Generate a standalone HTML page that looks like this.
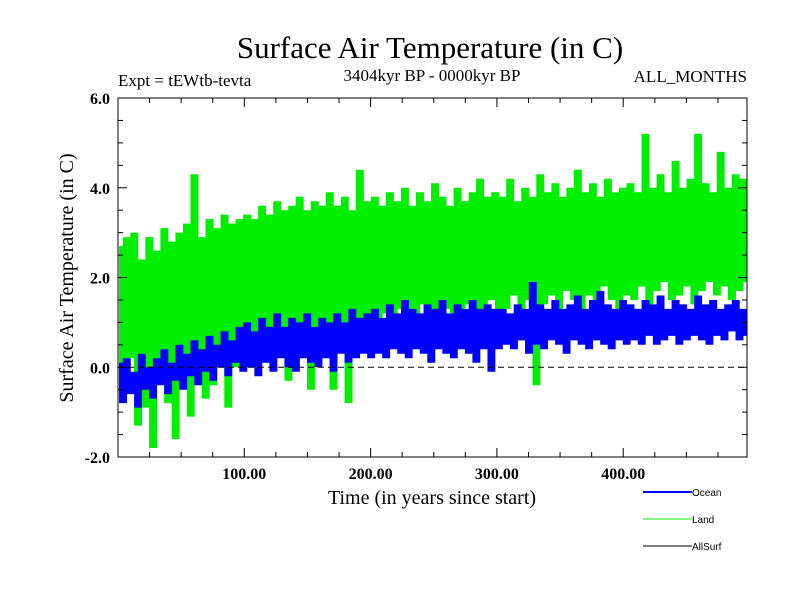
<!DOCTYPE html>
<html><head><meta charset="utf-8">
<style>
html,body{margin:0;padding:0;background:#fff;}
svg{display:block;font-family:"Liberation Serif",serif;}
.sans{font-family:"Liberation Sans",sans-serif;}
</style></head>
<body>
<svg id="chart" width="800" height="600" viewBox="0 0 800 600">
  <text x="430" y="58" font-size="31" text-anchor="middle">Surface Air Temperature (in C)</text>
  <text x="432" y="81" font-size="17" text-anchor="middle">3404kyr BP - 0000kyr BP</text>
  <text x="118" y="86" font-size="17">Expt = tEWtb-tevta</text>
  <text x="747" y="82" font-size="17" text-anchor="end">ALL_MONTHS</text>
  <text x="0" y="0" font-size="20" text-anchor="middle" transform="translate(73,278) rotate(-90)">Surface Air Temperature (in C)</text>
  <text x="432" y="504" font-size="20" text-anchor="middle">Time (in years since start)</text>
  <g id="series"></g>
  <g id="axes"></g>
  <g>
    <line x1="643" y1="492" x2="692" y2="492" stroke="#0000ff" stroke-width="2"/>
    <text class="sans" x="692" y="496" font-size="10">Ocean</text>
    <line x1="643" y1="519" x2="692" y2="519" stroke="#00ee00" stroke-width="1"/>
    <text class="sans" x="692" y="523" font-size="10">Land</text>
    <line x1="643" y1="546" x2="692" y2="546" stroke="#000" stroke-width="1"/>
    <text class="sans" x="692" y="550" font-size="10">AllSurf</text>
  </g>
</svg>
<script>
const yTickValues = [-2, 0, 2, 4, 6];
const yTickLabels = ["-2.0", "0.0", "2.0", "4.0", "6.0"];
const xTickValues = [100, 200, 300, 400];
const xTickLabels = ["100.00", "200.00", "300.00", "400.00"];
const startYear = 1;
const endYear = 498;
const landValues = [2.7,-0.6,2.9,0.2,3.0,-1.3,2.4,-0.9,2.9,-1.8,2.6,0.1,3.1,-0.8,2.8,-1.6,3.0,-0.2,3.2,-1.1,4.3,0.3,2.9,-0.7,3.3,-0.4,3.1,0.4,3.4,-0.9,3.2,0.0,3.3,0.5,
3.4,0.2,3.3,0.6,3.6,0.1,3.4,0.7,3.7,0.3,3.5,-0.3,3.6,0.4,3.8,0.8,3.5,-0.5,3.7,0.6,3.6,0.2,3.9,-0.5,3.6,0.7,3.8,-0.8,3.5,1.0,4.4,0.9,3.7,1.1,
3.8,0.9,3.6,1.2,3.9,0.8,3.7,1.3,4.0,1.0,3.6,0.7,3.9,1.4,3.7,1.1,4.1,0.9,3.8,1.3,3.6,1.2,4.0,0.8,3.7,1.4,3.9,1.0,4.2,1.2,3.8,1.5,3.9,1.1,
3.8,1.3,4.2,1.6,3.7,1.2,4.0,1.5,3.8,-0.4,4.3,1.4,3.9,1.6,4.1,1.3,3.8,1.7,4.0,1.5,4.4,1.2,3.9,1.6,4.1,1.4,3.8,1.8,4.2,1.5,3.9,1.3,4.0,1.6,
4.1,1.5,3.9,1.8,5.2,1.4,4.0,1.7,4.3,1.9,3.9,1.5,4.6,1.6,4.0,1.8,4.2,1.4,5.2,1.7,4.1,1.9,3.9,1.6,4.8,1.8,4.0,1.5,4.3,1.7,4.2,1.9];
const oceanValues = [0.1,-0.8,0.2,-0.6,-0.1,-0.9,0.3,-0.5,0.0,-0.7,0.2,-0.4,0.4,-0.6,0.1,-0.3,0.5,-0.5,0.3,-0.2,0.6,-0.4,0.4,-0.1,0.7,-0.3,0.5,0.0,0.8,-0.2,0.6,0.1,0.9,-0.1,
1.0,0.0,0.8,-0.2,1.1,0.1,0.9,-0.1,1.2,0.2,0.9,0.0,1.1,-0.1,1.0,0.2,1.2,0.1,0.9,0.0,1.1,0.2,1.0,-0.1,1.2,0.3,1.0,0.1,1.3,0.2,1.1,0.3,1.2,0.2,
1.3,0.3,1.1,0.2,1.4,0.4,1.2,0.3,1.5,0.2,1.3,0.4,1.2,0.3,1.4,0.1,1.3,0.4,1.5,0.3,1.2,0.2,1.4,0.4,1.3,0.3,1.5,0.1,1.3,0.4,1.4,-0.1,1.3,0.4,
1.3,0.5,1.2,0.4,1.4,0.6,1.3,0.3,1.9,0.5,1.4,0.4,1.3,0.6,1.5,0.5,1.3,0.3,1.4,0.6,1.6,0.5,1.3,0.4,1.5,0.6,1.7,0.5,1.4,0.4,1.3,0.6,1.5,0.5,
1.4,0.6,1.3,0.5,1.5,0.7,1.4,0.5,1.6,0.6,1.3,0.7,1.5,0.5,1.4,0.6,1.3,0.7,1.6,0.6,1.4,0.5,1.5,0.7,1.3,0.6,1.4,0.8,1.5,0.6,1.3,0.7];

const NS = "http://www.w3.org/2000/svg";
const L = 118, R = 747, T = 98, B = 457;
const xMin = 0, xMax = 498, yMin = -2, yMax = 6;
function xScale(v){ return L + (v - xMin) / (xMax - xMin) * (R - L); }
function yScale(v){ return B - (v - yMin) / (yMax - yMin) * (B - T); }
function mk(tag, attrs){ const e = document.createElementNS(NS, tag); for (const k in attrs) e.setAttribute(k, attrs[k]); return e; }

const series = document.getElementById('series');
const axes = document.getElementById('axes');

function seriesPath(vals){
  const n = vals.length;
  let d = '';
  for (let i = 0; i < n - 1; i++){
    const x0 = xScale(startYear + i * (endYear - startYear) / (n - 1));
    const x1 = xScale(startYear + (i + 1) * (endYear - startYear) / (n - 1));
    const xm = (x0 + x1) / 2;
    d += 'M' + xm.toFixed(2) + ',' + yScale(vals[i]).toFixed(2) + 'V' + yScale(vals[i + 1]).toFixed(2);
  }
  return d;
}
const stepW = (xScale(endYear) - xScale(startYear)) / (landValues.length - 1);
const landPath = mk('path', {d: seriesPath(landValues), fill: 'none', stroke: '#00ee00', 'stroke-width': stepW + 0.4});


series.appendChild(landPath);
const oceanPath = mk('path', {d: seriesPath(oceanValues), fill: 'none', stroke: '#0000ff', 'stroke-width': stepW + 0.4});


series.appendChild(oceanPath);

const zero = mk('line', {x1: L, x2: R, y1: yScale(0), y2: yScale(0), stroke: '#000', 'stroke-width': 1, 'stroke-dasharray': '6,4'});


axes.appendChild(zero);

const frame = mk('rect', {x: L, y: T, width: R - L, height: B - T, fill: 'none', stroke: '#000', 'stroke-width': 1});


axes.appendChild(frame);

for (let v = yMin; v <= yMax + 1e-9; v += 0.5){
  const major = Math.abs(v - Math.round(v/2)*2) < 1e-9;
  const len = major ? 9 : 5;
  const y = yScale(v);
  const t1 = mk('line', {x1: L, x2: L + len, y1: y, y2: y, stroke: '#000'});
  
  
  axes.appendChild(t1);
  const t2 = mk('line', {x1: R, x2: R - len, y1: y, y2: y, stroke: '#000'});
  
  
  axes.appendChild(t2);
}
for (let v = 25; v < xMax; v += 25){
  const major = v % 100 === 0;
  const len = major ? 9 : 5;
  const x = xScale(v);
  const t1 = mk('line', {x1: x, x2: x, y1: B, y2: B - len, stroke: '#000'});
  
  
  axes.appendChild(t1);
  const t2 = mk('line', {x1: x, x2: x, y1: T, y2: T + len, stroke: '#000'});
  
  
  axes.appendChild(t2);
}
yTickValues.forEach((v,i)=>{
  const t = mk('text', {x: 110, y: yScale(v) + 6, 'font-size': 16, 'text-anchor': 'end', 'font-weight': 'bold'});
  t.textContent = yTickLabels[i];
  
  
  axes.appendChild(t);
});
xTickValues.forEach((v,i)=>{
  const t = mk('text', {x: xScale(v), y: 479, 'font-size': 16, 'text-anchor': 'middle', 'font-weight': 'bold'});
  t.textContent = xTickLabels[i];
  
  
  axes.appendChild(t);
});
</script>
</body></html>
